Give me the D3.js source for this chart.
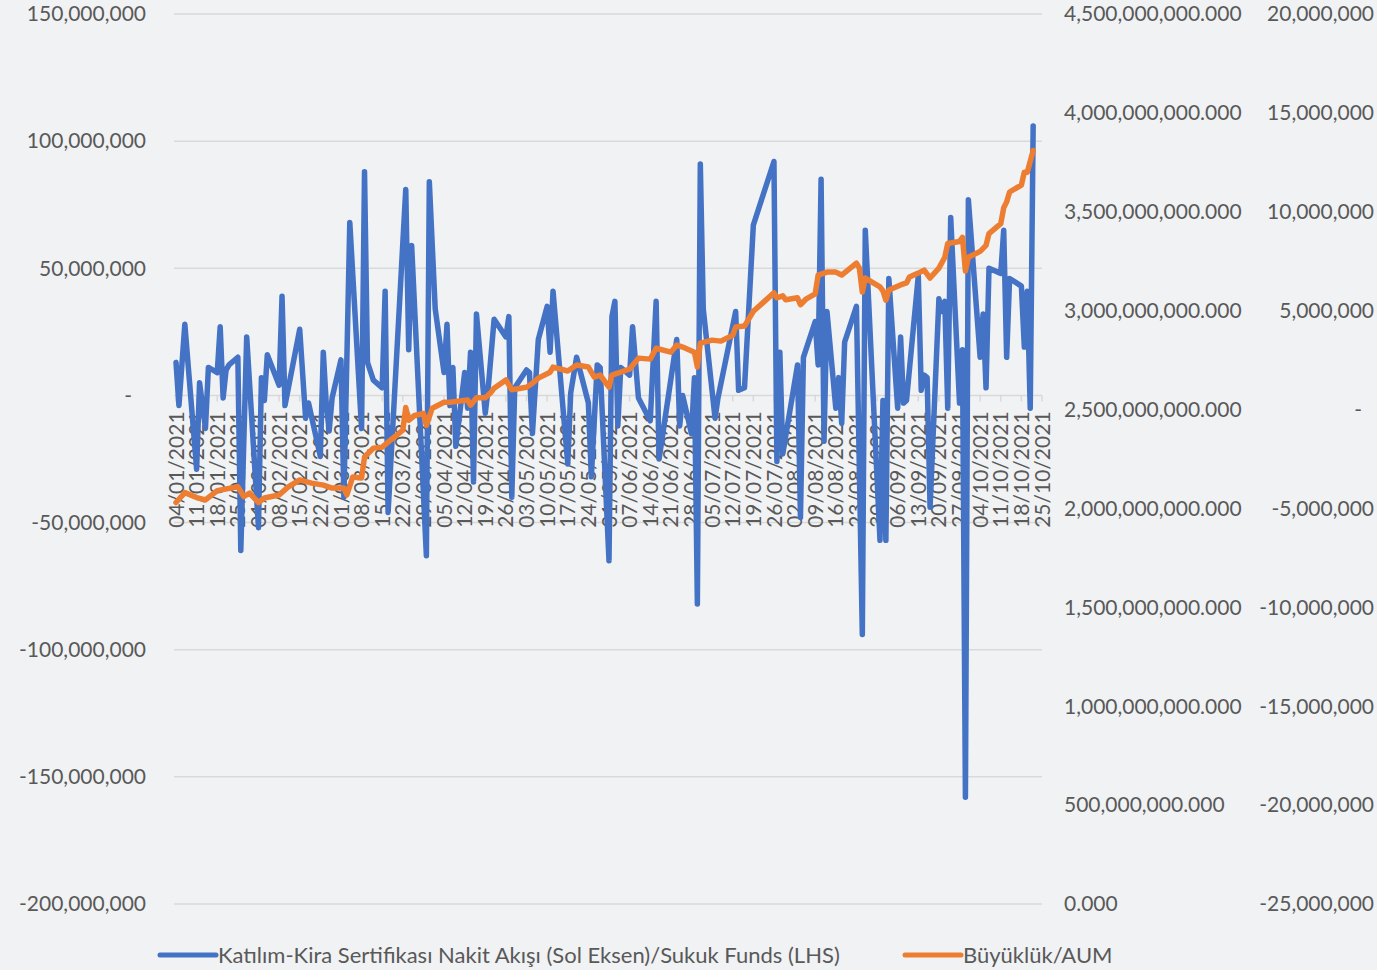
<!DOCTYPE html>
<html><head><meta charset="utf-8">
<script src="https://cdn.jsdelivr.net/npm/d3@7"></script>
<style>
html,body{margin:0;padding:0;background:#F0F2F4;}
svg{display:block;}
text{font-family:Lato,"Open Sans",sans-serif;fill:#595959;}
</style></head><body>
<svg id="c" width="1377" height="970"></svg>
<script>
// ---- data ----
const flowDates = ["2021-01-04","2021-01-05","2021-01-07","2021-01-11","2021-01-12","2021-01-14","2021-01-15","2021-01-18","2021-01-19","2021-01-20","2021-01-21","2021-01-22","2021-01-25","2021-01-26","2021-01-28","2021-02-01","2021-02-02","2021-02-03","2021-02-04","2021-02-08","2021-02-09","2021-02-10","2021-02-15","2021-02-17","2021-02-18","2021-02-22","2021-02-23","2021-02-24","2021-02-25","2021-02-26","2021-03-01","2021-03-02","2021-03-04","2021-03-08","2021-03-09","2021-03-10","2021-03-12","2021-03-15","2021-03-16","2021-03-17","2021-03-23","2021-03-24","2021-03-25","2021-03-30","2021-03-31","2021-04-02","2021-04-05","2021-04-06","2021-04-07","2021-04-08","2021-04-09","2021-04-12","2021-04-13","2021-04-14","2021-04-15","2021-04-16","2021-04-19","2021-04-20","2021-04-22","2021-04-26","2021-04-27","2021-04-28","2021-04-29","2021-05-03","2021-05-04","2021-05-05","2021-05-07","2021-05-10","2021-05-11","2021-05-12","2021-05-17","2021-05-18","2021-05-20","2021-05-24","2021-05-25","2021-05-27","2021-05-28","2021-05-31","2021-06-01","2021-06-02","2021-06-03","2021-06-04","2021-06-07","2021-06-08","2021-06-10","2021-06-14","2021-06-16","2021-06-17","2021-06-23","2021-06-24","2021-06-25","2021-06-28","2021-06-29","2021-06-30","2021-07-01","2021-07-02","2021-07-06","2021-07-07","2021-07-13","2021-07-14","2021-07-16","2021-07-19","2021-07-26","2021-07-27","2021-07-28","2021-07-29","2021-08-03","2021-08-04","2021-08-05","2021-08-09","2021-08-10","2021-08-11","2021-08-12","2021-08-13","2021-08-16","2021-08-17","2021-08-18","2021-08-19","2021-08-23","2021-08-25","2021-08-26","2021-08-31","2021-09-01","2021-09-02","2021-09-03","2021-09-06","2021-09-07","2021-09-08","2021-09-09","2021-09-13","2021-09-14","2021-09-15","2021-09-16","2021-09-17","2021-09-20","2021-09-21","2021-09-22","2021-09-23","2021-09-24","2021-09-27","2021-09-28","2021-09-29","2021-09-30","2021-10-04","2021-10-05","2021-10-06","2021-10-07","2021-10-11","2021-10-12","2021-10-13","2021-10-14","2021-10-18","2021-10-19","2021-10-20","2021-10-21","2021-10-22"];
// net cash flow, millions (left axis)
const flowValues = [13,-4,28,-29,5,-13,11,9,27,-1,10,12,15,-61,23,-52,7,-2,16,4,39,-4,26,-9,-3,-24,17,-3,-14,-1,14,-40,68,-13,88,13,6,3,41,-46,81,18,59,-63,84,34,9,28,-4,11,-20,9,-5,17,-34,32,-7,3,30,23,31,-40,3,10,9,-15,22,35,17,41,-27,1,15,-3,-32,12,11,-65,31,37,-12,11,8,27,-1,-10,37,-25,22,-12,0,-15,7,-82,91,34,-9,-1,33,2,3,67,92,-26,17,-23,12,-48,15,29,12,85,-18,33,-5,7,-11,21,35,-94,65,-57,-2,-57,46,-5,23,-3,-2,47,2,8,7,-44,38,33,37,-5,70,-3,18,-158,77,15,32,3,50,48,65,15,46,43,19,41,-5,106];

const aumDates = ["2021-01-04","2021-01-07","2021-01-11","2021-01-14","2021-01-18","2021-01-25","2021-01-27","2021-01-29","2021-02-01","2021-02-03","2021-02-08","2021-02-11","2021-02-15","2021-02-19","2021-02-23","2021-02-26","2021-03-02","2021-03-03","2021-03-05","2021-03-08","2021-03-09","2021-03-12","2021-03-15","2021-03-17","2021-03-22","2021-03-23","2021-03-24","2021-03-26","2021-03-29","2021-03-30","2021-04-01","2021-04-05","2021-04-07","2021-04-13","2021-04-14","2021-04-16","2021-04-19","2021-04-21","2021-04-22","2021-04-26","2021-04-28","2021-05-03","2021-05-05","2021-05-07","2021-05-11","2021-05-12","2021-05-17","2021-05-20","2021-05-24","2021-05-26","2021-05-28","2021-05-31","2021-06-01","2021-06-04","2021-06-07","2021-06-10","2021-06-14","2021-06-16","2021-06-21","2021-06-23","2021-06-25","2021-06-29","2021-06-30","2021-07-01","2021-07-05","2021-07-08","2021-07-12","2021-07-13","2021-07-16","2021-07-19","2021-07-26","2021-07-27","2021-07-29","2021-07-30","2021-08-03","2021-08-04","2021-08-06","2021-08-09","2021-08-10","2021-08-13","2021-08-16","2021-08-18","2021-08-23","2021-08-24","2021-08-25","2021-08-26","2021-08-31","2021-09-01","2021-09-02","2021-09-03","2021-09-07","2021-09-09","2021-09-10","2021-09-13","2021-09-15","2021-09-17","2021-09-20","2021-09-22","2021-09-23","2021-09-27","2021-09-28","2021-09-29","2021-09-30","2021-10-04","2021-10-06","2021-10-07","2021-10-11","2021-10-12","2021-10-13","2021-10-14","2021-10-18","2021-10-19","2021-10-20","2021-10-22"];
// AUM, billions (right axis)
const aumValues = [2.03,2.08,2.055,2.043,2.09,2.11,2.06,2.078,2.03,2.053,2.068,2.108,2.144,2.128,2.118,2.103,2.103,2.068,2.159,2.154,2.26,2.305,2.31,2.335,2.396,2.51,2.446,2.47,2.48,2.42,2.507,2.537,2.537,2.548,2.522,2.56,2.56,2.588,2.608,2.65,2.60,2.613,2.633,2.659,2.689,2.715,2.695,2.725,2.715,2.664,2.674,2.613,2.674,2.689,2.705,2.76,2.755,2.81,2.79,2.826,2.816,2.79,2.715,2.836,2.851,2.846,2.876,2.917,2.922,2.997,3.09,3.065,3.075,3.055,3.065,3.03,3.06,3.085,3.18,3.195,3.195,3.18,3.24,3.215,3.094,3.165,3.12,3.10,3.053,3.104,3.13,3.14,3.17,3.19,3.205,3.165,3.215,3.27,3.34,3.35,3.37,3.20,3.27,3.30,3.33,3.39,3.44,3.52,3.55,3.60,3.635,3.70,3.70,3.81];

const leftTicks = [-200,-150,-100,-50,0,50,100,150];         // millions
const aumTicks = [0,0.5,1,1.5,2,2.5,3,3.5,4,4.5];              // billions
const rightTicks = [-25,-20,-15,-10,-5,0,5,10,15,20];         // millions
const legendLabels = ["Katılım-Kira Sertifikası Nakit Akışı (Sol Eksen)/Sukuk Funds (LHS)","Büyüklük/AUM"];
const xStart = "2021-01-04", xEnd = "2021-10-25";

// ---- chart ----
const svg = d3.select("#c");
const parse = d3.utcParse("%Y-%m-%d");
const L = 174, R = 1042, T = 14, B = 904;
const x = d3.scaleUtc().domain([parse(xStart), parse(xEnd)]).range([176, R]);
const yL = d3.scaleLinear().domain([-200,150]).range([B,T]);
const yA = d3.scaleLinear().domain([0,4.5]).range([B,T]);
const yR = d3.scaleLinear().domain([-25,20]).range([B,T]);
const fmt = d3.format(",");
const FS = 21;

// gridlines
svg.append("g").selectAll("line").data(leftTicks).join("line")
  .attr("x1",L).attr("x2",R).attr("y1",d=>yL(d)).attr("y2",d=>yL(d))
  .attr("stroke","#D9D9D9").attr("stroke-width",1.5);

// left axis labels
svg.append("g").selectAll("text").data(leftTicks).join("text")
  .attr("x",d=>d===0?132:146).attr("y",d=>yL(d)).attr("dy","0.35em")
  .attr("text-anchor","end").attr("font-size",FS)
  .text(d=>d===0?"-":fmt(d*1e6).replace("\u2212","-"));

// AUM axis labels
svg.append("g").selectAll("text").data(aumTicks).join("text")
  .attr("x",1064).attr("y",d=>yA(d)).attr("dy","0.35em")
  .attr("text-anchor","start").attr("font-size",FS)
  .text(d=>d3.format(",.3f")(d*1e9));

// right axis labels
svg.append("g").selectAll("text").data(rightTicks).join("text")
  .attr("x",d=>d===0?1362:1374).attr("y",d=>yR(d)).attr("dy","0.35em")
  .attr("text-anchor","end").attr("font-size",FS)
  .text(d=>d===0?"-":fmt(d*1e6).replace("\u2212","-"));

// x axis ticks & labels (weekly)
const weeks = d3.utcMonday.range(parse(xStart), d3.utcDay.offset(parse(xEnd),1));
const y0 = yL(0);
svg.append("g").selectAll("line").data(weeks).join("line")
  .attr("x1",d=>x(d)).attr("x2",d=>x(d)).attr("y1",y0).attr("y2",y0+6)
  .attr("stroke","#D9D9D9").attr("stroke-width",1.5);
svg.append("g").selectAll("text").data(weeks).join("text")
  .attr("transform",d=>`translate(${x(d)},${y0+16}) rotate(-90)`)
  .attr("dy","0.36em").attr("text-anchor","end").attr("font-size",FS)
  .text(d=>d3.utcFormat("%d/%m/%Y")(d));

// lines
const flow = flowDates.map((d,i)=>({d:parse(d),v:flowValues[i]}));
const aum = aumDates.map((d,i)=>({d:parse(d),v:aumValues[i]}));
svg.append("path").datum(flow)
  .attr("d",d3.line().x(p=>x(p.d)).y(p=>yL(p.v)))
  .attr("fill","none").attr("stroke","#4472C4").attr("stroke-width",5.5)
  .attr("stroke-linejoin","round").attr("stroke-linecap","round");
svg.append("path").datum(aum)
  .attr("d",d3.line().x(p=>x(p.d)).y(p=>yA(p.v)))
  .attr("fill","none").attr("stroke","#ED7D31").attr("stroke-width",5.5)
  .attr("stroke-linejoin","round").attr("stroke-linecap","round");

// legend
const lg = svg.append("g");
[[160,"#4472C4",legendLabels[0]],[905,"#ED7D31",legendLabels[1]]].forEach(([lx,c,t])=>{
  lg.append("line").attr("x1",lx).attr("x2",lx+56).attr("y1",955).attr("y2",955)
    .attr("stroke",c).attr("stroke-width",5).attr("stroke-linecap","round");
  lg.append("text").attr("x",lx+58).attr("y",955).attr("dy","0.35em")
    .attr("font-size",22).text(t);
});
</script></body></html>
